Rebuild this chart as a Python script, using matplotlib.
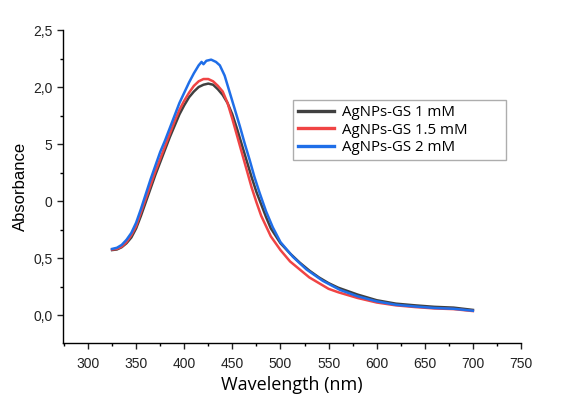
import matplotlib
matplotlib.use("Agg")
import matplotlib.pyplot as plt
from matplotlib.ticker import MultipleLocator, FixedLocator, FixedFormatter

# wavelengths (nm) and absorbance
wl_1 = [325, 330, 335, 340, 345, 350, 355, 360, 365, 370, 375, 380, 385, 390, 395,
        400, 405, 410, 415, 420, 425, 430, 435, 440, 445, 450, 455, 460, 465, 470,
        475, 480, 485, 490, 500, 510, 520, 530, 540, 550, 560, 580, 600, 620, 640,
        660, 680, 700]
abs_1 = [0.57, 0.575, 0.595, 0.63, 0.68, 0.76, 0.87, 0.99, 1.11, 1.23, 1.34, 1.45,
         1.56, 1.66, 1.76, 1.84, 1.91, 1.96, 2.00, 2.02, 2.03, 2.02, 1.98, 1.93,
         1.86, 1.76, 1.63, 1.49, 1.35, 1.21, 1.08, 0.97, 0.86, 0.76, 0.63, 0.54,
         0.46, 0.39, 0.33, 0.28, 0.24, 0.18, 0.13, 0.10, 0.085, 0.072, 0.065, 0.045]

wl_15 = [325, 330, 335, 340, 345, 350, 355, 360, 365, 370, 375, 380, 385, 390, 395,
         400, 405, 410, 415, 420, 425, 430, 435, 440, 445, 450, 455, 460, 465, 470,
         475, 480, 485, 490, 500, 510, 520, 530, 540, 550, 560, 580, 600, 620, 640,
         660, 680, 700]
abs_15 = [0.575, 0.58, 0.60, 0.64, 0.70, 0.78, 0.90, 1.02, 1.14, 1.26, 1.37, 1.48,
          1.59, 1.70, 1.80, 1.88, 1.95, 2.01, 2.05, 2.07, 2.07, 2.05, 2.01, 1.96,
          1.86, 1.72, 1.57, 1.42, 1.27, 1.12, 0.99, 0.87, 0.78, 0.69, 0.57, 0.47,
          0.40, 0.33, 0.28, 0.23, 0.20, 0.15, 0.11, 0.085, 0.07, 0.058, 0.052, 0.035]

wl_2 = [325, 330, 335, 340, 345, 350, 355, 360, 365, 370, 375, 380, 385, 390, 395,
        400, 405, 410, 415, 418, 420, 423, 428, 433, 437, 442, 447, 452, 458, 463,
        468, 473, 478, 485, 492, 500, 513, 527, 544, 562, 580, 600, 620, 640, 660,
        680, 700]
abs_2 = [0.58, 0.59, 0.615, 0.66, 0.72, 0.81, 0.93, 1.06, 1.19, 1.31, 1.43, 1.53,
         1.64, 1.75, 1.86, 1.95, 2.04, 2.12, 2.19, 2.22, 2.20, 2.23, 2.24, 2.22,
         2.19, 2.10, 1.96, 1.82, 1.65, 1.50, 1.36, 1.21, 1.08, 0.91, 0.77, 0.64,
         0.51, 0.40, 0.30, 0.22, 0.165, 0.12, 0.09, 0.075, 0.062, 0.055, 0.038]

labels = ["AgNPs-GS 1 mM", "AgNPs-GS 1.5 mM", "AgNPs-GS 2 mM"]
colors = ["#404040", "#f04444", "#1f6ee8"]

y_ticks = [0.0, 0.5, 1.0, 1.5, 2.0, 2.5]
y_ticklabels = ["0,0", "0,5", "0", "5", "2,0", "2,5"]

plt.rcParams['font.family'] = ['Liberation Sans', 'DejaVu Sans']

fig = plt.figure(figsize=(5.61, 3.99), dpi=100)
ax = fig.add_axes([0.1123, 0.1404, 0.8164, 0.7844])

for wl, a, lab, c in zip([wl_1, wl_15, wl_2], [abs_1, abs_15, abs_2], labels, colors):
    ax.plot(wl, a, color=c, lw=1.8, label=lab)

ax.set_xlim(274, 750)
ax.set_ylim(-0.245, 2.5)

ax.xaxis.set_major_locator(MultipleLocator(50))
ax.xaxis.set_minor_locator(MultipleLocator(25))
ax.yaxis.set_major_locator(FixedLocator(y_ticks))
ax.yaxis.set_major_formatter(FixedFormatter(y_ticklabels))
ax.yaxis.set_minor_locator(MultipleLocator(0.25))

ax.spines['top'].set_visible(False)
ax.spines['right'].set_visible(False)
for s in ['left', 'bottom']:
    ax.spines[s].set_linewidth(1.0)

ax.tick_params(which='major', direction='out', length=4, width=1, labelsize=10, colors='#222222')
ax.tick_params(which='minor', direction='out', length=2.5, width=1)
ax.tick_params(axis='x', pad=6)

ax.set_xlabel("Wavelength (nm)", fontsize=13, family=['Open Sans', 'DejaVu Sans'], labelpad=4)
ax.set_ylabel("Absorbance", fontsize=12, labelpad=4)

leg = ax.legend(loc='upper left', bbox_to_anchor=(0.502, 0.5, 0.465, 0.276),
                mode='expand', borderaxespad=0, frameon=True, fancybox=False,
                prop={'family': ['Open Sans', 'DejaVu Sans'], 'size': 10.8},
                handlelength=2.4, handletextpad=0.5, labelspacing=0.15,
                borderpad=0.35)
leg.get_frame().set_edgecolor('#999999')
leg.get_frame().set_linewidth(1.0)
for line in leg.get_lines():
    line.set_linewidth(2.4)

fig.savefig("out.png", dpi=100)
